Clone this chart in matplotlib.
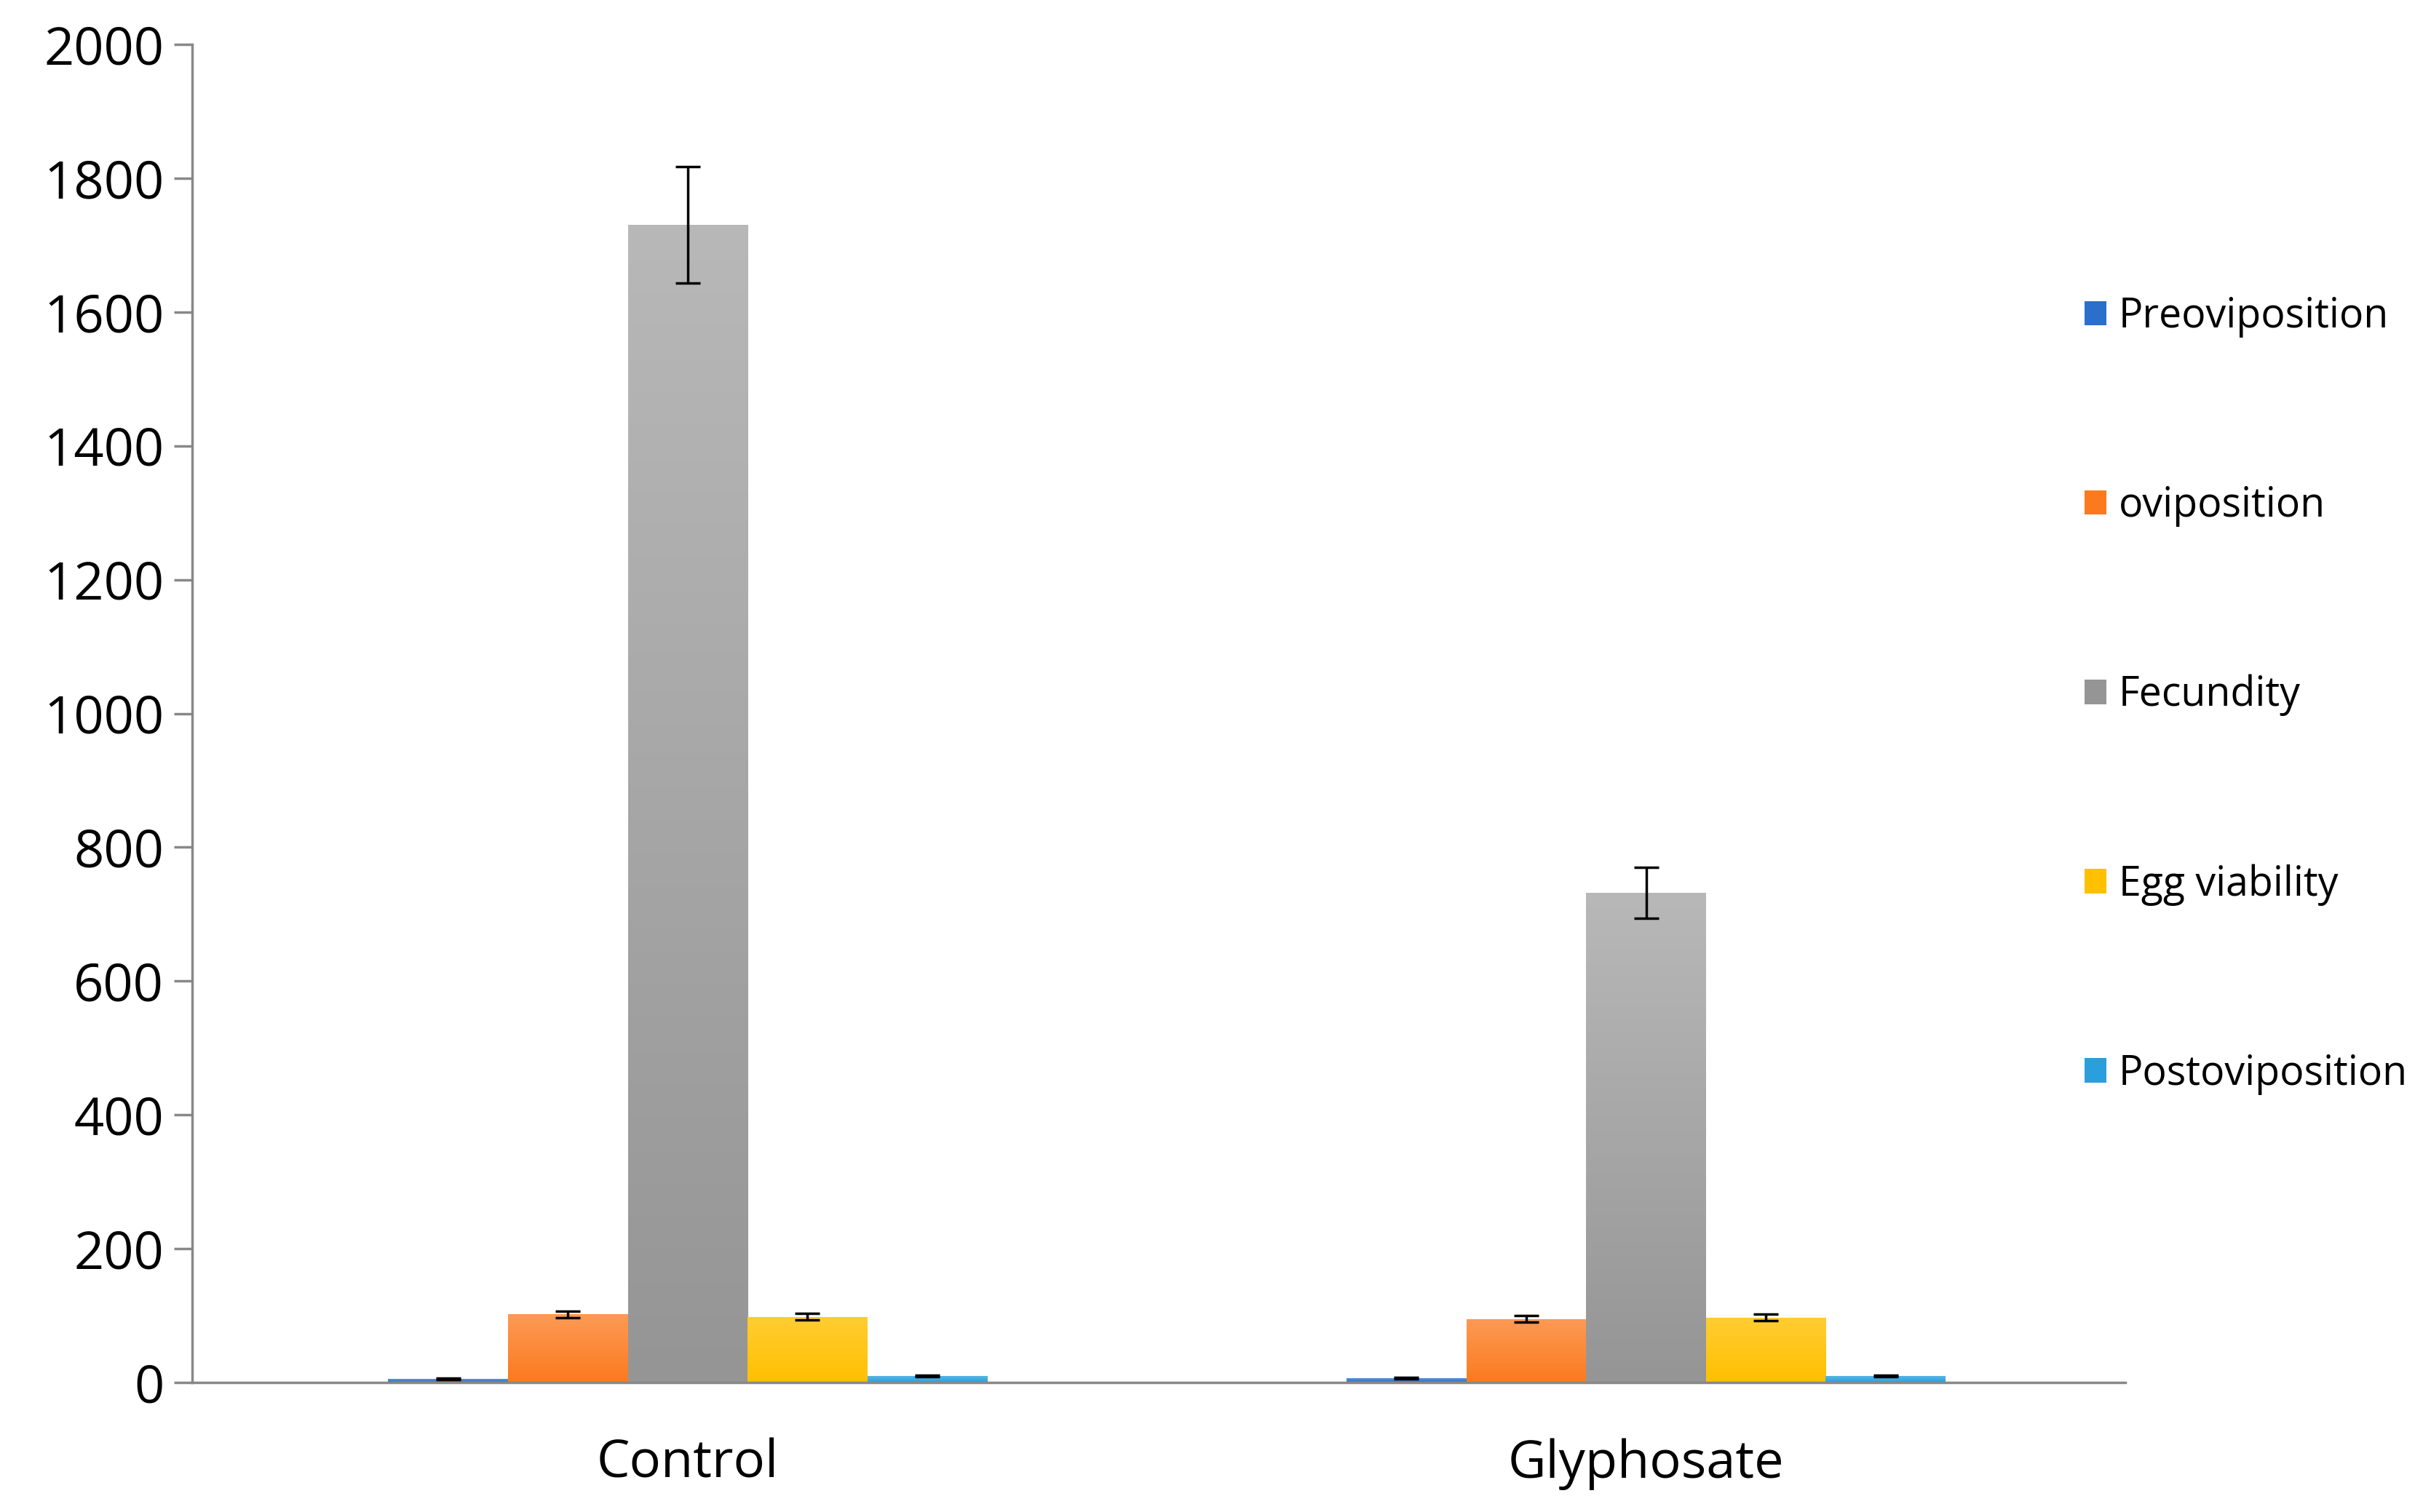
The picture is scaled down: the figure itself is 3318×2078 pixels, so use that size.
import numpy as np
import matplotlib.pyplot as plt
from matplotlib.patches import Patch
from matplotlib.colors import to_rgb

plt.rcParams["font.family"] = ["Open Sans", "DejaVu Sans"]

groups = ["Control", "Glyphosate"]
series = ["Preoviposition", "oviposition", "Fecundity", "Egg viability", "Postoviposition"]
control = [5, 102, 1730, 98, 10]
glyphosate = [6, 95, 732, 97, 10]
control_err = [1, 5, 87, 5, 1]
glyphosate_err = [1, 5, 38, 5, 1]
colors = ["#2a6fc9", "#fb7a1e", "#959595", "#ffc000", "#2a9fdc"]
light = ["#5c92db", "#fd9a55", "#b8b8b8", "#ffcd33", "#5cb9e8"]

fig = plt.figure(figsize=(33.18, 20.78), dpi=100)
ax = fig.add_axes([0.0796, 0.0857, 0.8004, 0.8849])

x = np.arange(len(groups))
width = 0.125
values = np.array([control, glyphosate]).T
errors = np.array([control_err, glyphosate_err]).T

grad = np.linspace(1, 0, 256).reshape(-1, 1)
for i, name in enumerate(series):
    pos = x + (i - 2) * width
    bars = ax.bar(pos, values[i], width, color=colors[i], zorder=2)
    c0, c1 = np.array(to_rgb(light[i])), np.array(to_rgb(colors[i]))
    img = grad[..., None] * c0 + (1 - grad[..., None]) * c1
    for b in bars:
        h = b.get_height()
        im = ax.imshow(img, extent=[b.get_x(), b.get_x() + width, 0, h],
                       aspect="auto", zorder=2, origin="upper")
        im.set_clip_path(b)
    ax.errorbar(pos, values[i], yerr=errors[i], fmt="none", ecolor="black",
                elinewidth=2.5, capsize=12, capthick=2.5, zorder=3)

ax.set_xlim(-0.517, 1.5)
ax.set_ylim(0, 2000)
ax.set_yticks(range(0, 2001, 200))
ax.set_xticks(x)
ax.set_xticklabels(groups)
ax.tick_params(axis="y", labelsize=52, length=18, width=2.5, color="#888888", pad=10)
ax.tick_params(axis="x", labelsize=52, length=0, pad=55)
for s in ["top", "right"]:
    ax.spines[s].set_visible(False)
for s in ["left", "bottom"]:
    ax.spines[s].set_color("#888888")
    ax.spines[s].set_linewidth(2.5)

handles = [Patch(facecolor=c) for c in colors]
fig.legend(handles, series, loc="upper left", bbox_to_anchor=(0.848, 0.828),
           frameon=False, fontsize=40, labelspacing=3.65, handlelength=0.55,
           handleheight=0.55, handletextpad=0.3)

fig.savefig("out.png", dpi=100)
